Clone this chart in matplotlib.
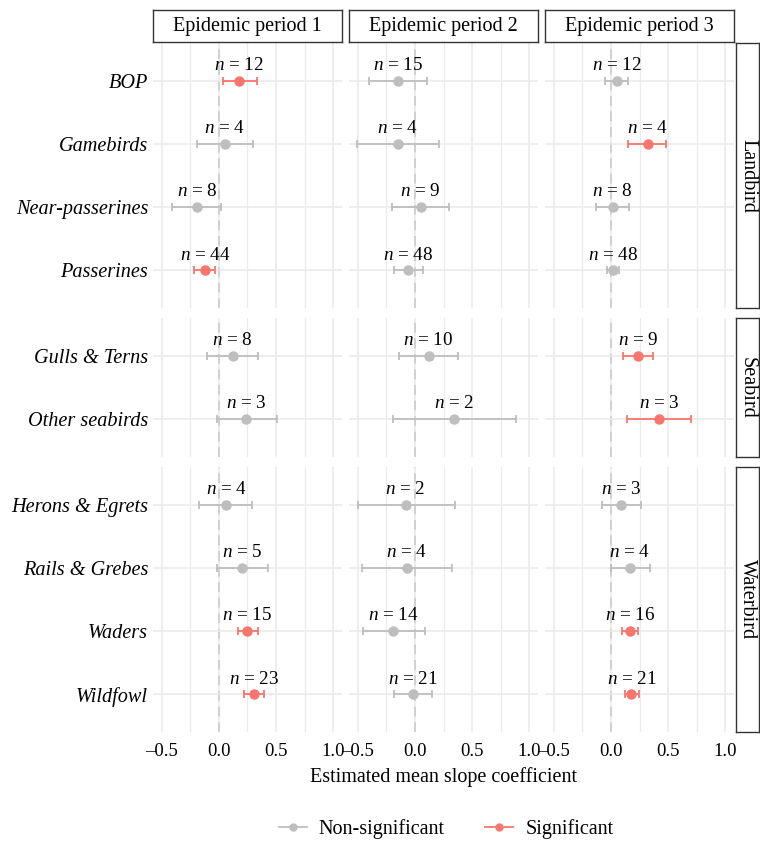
import matplotlib
matplotlib.use("Agg")
import matplotlib.pyplot as plt
from matplotlib.lines import Line2D
import numpy as np

plt.rcParams['font.family'] = ['Liberation Serif', 'DejaVu Serif']
plt.rcParams['mathtext.fontset'] = 'custom'
plt.rcParams['mathtext.it'] = 'Liberation Serif:italic'
plt.rcParams['mathtext.rm'] = 'Liberation Serif'

# categories per group (top to bottom)
groups = ['Landbird', 'Seabird', 'Waterbird']
group_cats = [
    ['BOP', 'Gamebirds', 'Near-passerines', 'Passerines'],
    ['Gulls & Terns', 'Other seabirds'],
    ['Herons & Egrets', 'Rails & Grebes', 'Waders', 'Wildfowl'],
]
periods = ['Epidemic period 1', 'Epidemic period 2', 'Epidemic period 3']
x_ticks = [-0.5, 0, 0.5, 1.0]
x_ticklabels = ['\u20130.5', '0.0', '0.5', '1.0']

# values in category order: BOP, Gamebirds, Near-passerines, Passerines,
# Gulls & Terns, Other seabirds, Herons & Egrets, Rails & Grebes, Waders, Wildfowl
est_p1 = [0.18, 0.05, -0.19, -0.12, 0.12, 0.24, 0.065, 0.205, 0.25, 0.31]
lo_p1 = [0.04, -0.19, -0.41, -0.22, -0.10, -0.02, -0.17, -0.02, 0.165, 0.22]
hi_p1 = [0.33, 0.30, 0.015, -0.03, 0.34, 0.51, 0.29, 0.43, 0.345, 0.39]
n_p1 = [12, 4, 8, 44, 8, 3, 4, 5, 15, 23]
sig_p1 = [1, 0, 0, 1, 0, 0, 0, 0, 1, 1]

est_p2 = [-0.15, -0.15, 0.05, -0.06, 0.12, 0.34, -0.08, -0.07, -0.19, -0.02]
lo_p2 = [-0.40, -0.505, -0.20, -0.18, -0.14, -0.19, -0.50, -0.465, -0.455, -0.18]
hi_p2 = [0.11, 0.21, 0.30, 0.07, 0.38, 0.88, 0.35, 0.32, 0.085, 0.15]
n_p2 = [15, 4, 9, 48, 10, 2, 2, 4, 14, 21]
sig_p2 = [0, 0, 0, 0, 0, 0, 0, 0, 0, 0]

est_p3 = [0.05, 0.32, 0.015, 0.02, 0.24, 0.42, 0.09, 0.165, 0.17, 0.18]
lo_p3 = [-0.05, 0.15, -0.13, -0.03, 0.11, 0.14, -0.08, 0.0, 0.10, 0.12]
hi_p3 = [0.15, 0.48, 0.16, 0.075, 0.37, 0.70, 0.26, 0.34, 0.24, 0.245]
n_p3 = [12, 4, 8, 48, 9, 3, 3, 4, 16, 21]
sig_p3 = [0, 1, 0, 0, 1, 1, 0, 0, 1, 1]

est = [est_p1, est_p2, est_p3]
lo = [lo_p1, lo_p2, lo_p3]
hi = [hi_p1, hi_p2, hi_p3]
ns = [n_p1, n_p2, n_p3]
sig = [sig_p1, sig_p2, sig_p3]

RED = '#F8766D'
GREY = '#BEBEBE'
W, H = 760, 841

fig = plt.figure(figsize=(W / 100, H / 100), dpi=100)

col_x = [153, 349, 545]
col_w = 189
row_y = [43, 318, 467]
unit = 63.1


def add_ax(x, y, w, h):
    return fig.add_axes([x / W, 1 - (y + h) / H, w / W, h / H])


offset = 0
for r, cats in enumerate(group_cats):
    k = len(cats)
    h = (k - 1 + 1.2) * unit
    for c in range(3):
        ax = add_ax(col_x[c], row_y[r], col_w, h)
        ax.set_xlim(-0.575, 1.075)
        ax.set_ylim(k - 1 + 0.6, -0.6)
        for s in ax.spines.values():
            s.set_visible(False)
        ax.set_xticks(x_ticks)
        ax.set_xticks([-0.25, 0.25, 0.75], minor=True)
        ax.set_yticks(range(k))
        ax.grid(True, which='major', color='#EBEBEB', lw=1.2, zorder=0)
        ax.grid(True, which='minor', axis='x', color='#EBEBEB', lw=0.9, zorder=0)
        ax.tick_params(which='both', length=0, labelsize=13.5, colors='black')
        ax.axvline(0, color='#4D4D4D', ls=(0, (5, 3)), lw=1.4, zorder=1)
        for i in range(k):
            j = offset + i
            col = RED if sig[c][j] else GREY
            e = est[c][j]
            ax.errorbar(e, i, xerr=[[e - lo[c][j]], [hi[c][j] - e]], fmt='o',
                        color=col, ms=6.5, elinewidth=1.3, capsize=2.6,
                        capthick=1.3, zorder=3)
            ax.text(e, i - 0.24, r'$n$ = %d' % ns[c][j], ha='center', va='center',
                    fontsize=13.8, zorder=4)
        if c == 0:
            ax.set_yticklabels(cats, fontstyle='italic', fontsize=14.6)
        else:
            ax.set_yticklabels([])
        if r == 2:
            ax.set_xticklabels(x_ticklabels)
            ax.tick_params(axis='x', pad=8)
        else:
            ax.set_xticklabels([])
    # right strip
    sa = add_ax(736, row_y[r], 23, h)
    sa.set_xticks([])
    sa.set_yticks([])
    for s in sa.spines.values():
        s.set_color('#333333')
        s.set_linewidth(1.0)
    sa.text(0.5, 0.5, groups[r], rotation=-90, ha='center', va='center',
            fontsize=14.5, transform=sa.transAxes)
    offset += k

# top strips
for c in range(3):
    sa = add_ax(col_x[c], 10, col_w, 32)
    sa.set_xticks([])
    sa.set_yticks([])
    for s in sa.spines.values():
        s.set_color('#333333')
        s.set_linewidth(1.0)
    sa.text(0.5, 0.5, periods[c], ha='center', va='center', fontsize=14.5,
            transform=sa.transAxes)

fig.text(443 / W, 1 - 777 / H, 'Estimated mean slope coefficient', ha='center',
         va='center', fontsize=14.5)

handles = [
    Line2D([0], [0], color=GREY, marker='o', ms=5, lw=1.3, label='Non-significant'),
    Line2D([0], [0], color=RED, marker='o', ms=5, lw=1.3, label='Significant'),
]
fig.legend(handles=handles, loc='center', bbox_to_anchor=(446 / W, 1 - 829 / H),
           ncol=2, frameon=False, fontsize=14.5, handlelength=1.4,
           columnspacing=2.0, handletextpad=0.6)

fig.savefig('out.png', dpi=100)
